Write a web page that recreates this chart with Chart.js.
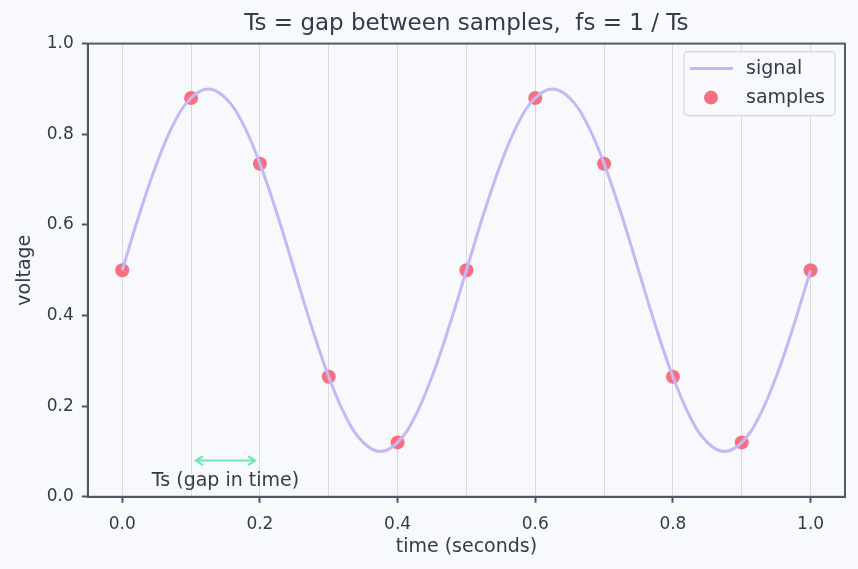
<!DOCTYPE html>
<html>
<head>
<meta charset="utf-8">
<script src="https://cdn.jsdelivr.net/npm/chart.js@4"></script>
<style>
  body { margin: 0; background: #f8f9fd; }
  canvas { display: block; }
</style>
</head>
<body>
<canvas id="chart" width="858" height="569"></canvas>
<script>
// continuous signal, every 0.025 s
const signalTimes = [0, 0.025, 0.05, 0.075, 0.1, 0.125, 0.15, 0.175, 0.2, 0.225, 0.25, 0.275, 0.3, 0.325, 0.35, 0.375, 0.4, 0.425, 0.45, 0.475, 0.5,
  0.525, 0.55, 0.575, 0.6, 0.625, 0.65, 0.675, 0.7, 0.725, 0.75, 0.775, 0.8, 0.825, 0.85, 0.875, 0.9, 0.925, 0.95, 0.975, 1.0];
const signalValues = [0.5, 0.624, 0.735, 0.824, 0.88, 0.9, 0.88, 0.824, 0.735, 0.624, 0.5, 0.376, 0.265, 0.176, 0.12, 0.1, 0.12, 0.176, 0.265, 0.376, 0.5,
  0.624, 0.735, 0.824, 0.88, 0.9, 0.88, 0.824, 0.735, 0.624, 0.5, 0.376, 0.265, 0.176, 0.12, 0.1, 0.12, 0.176, 0.265, 0.376, 0.5];

const sampleTimes = [0, 0.1, 0.2, 0.3, 0.4, 0.5, 0.6, 0.7, 0.8, 0.9, 1.0];
const sampleValues = [0.5, 0.88, 0.735, 0.265, 0.12, 0.5, 0.88, 0.735, 0.265, 0.12, 0.5];

const xTicks = [0, 0.1, 0.2, 0.3, 0.4, 0.5, 0.6, 0.7, 0.8, 0.9, 1.0];
const xLabelTicks = [0, 0.2, 0.4, 0.6, 0.8, 1.0];
const yTicks = [0, 0.2, 0.4, 0.6, 0.8, 1.0];

const gapFrom = 0.107, gapTo = 0.193, gapLevel = 0.08;
const gapLabel = 'Ts (gap in time)';

const ink = '#333a48';
const spine = '#535766';
const lineColor = '#c4b8f5';
const dotColor = '#f7707f';
const arrowColor = '#6ee7b7';
const font = 'DejaVu Sans';

const isLabelled = v => xLabelTicks.some(t => Math.abs(t - v) < 1e-6);

const extras = {
  id: 'extras',
  beforeDraw(chart) {
    const { ctx } = chart;
    ctx.save();
    ctx.fillStyle = '#f8f9fd';
    ctx.fillRect(0, 0, chart.width, chart.height);
    ctx.restore();
  },
  afterDraw(chart) {
    const { ctx, chartArea: a, scales: { x, y } } = chart;
    ctx.save();
    // frame round the plot
    ctx.strokeStyle = spine;
    ctx.lineWidth = 2;
    ctx.strokeRect(a.left, a.top, a.right - a.left, a.bottom - a.top);

    // gap arrow
    const x1 = x.getPixelForValue(gapFrom), x2 = x.getPixelForValue(gapTo);
    const ya = y.getPixelForValue(gapLevel);
    ctx.strokeStyle = arrowColor;
    ctx.lineWidth = 2;
    ctx.beginPath();
    ctx.moveTo(x1, ya); ctx.lineTo(x2, ya);
    ctx.moveTo(x1 + 7, ya - 4.5); ctx.lineTo(x1, ya); ctx.lineTo(x1 + 7, ya + 4.5);
    ctx.moveTo(x2 - 7, ya - 4.5); ctx.lineTo(x2, ya); ctx.lineTo(x2 - 7, ya + 4.5);
    ctx.stroke();
    ctx.fillStyle = ink;
    ctx.font = '19px "' + font + '"';
    ctx.textAlign = 'center';
    ctx.textBaseline = 'middle';
    ctx.fillText(gapLabel, x.getPixelForValue(0.15), y.getPixelForValue(0.034));

    // legend inside the plot, top right
    const bx = a.right - 161, by = a.top + 8, bw = 151, bh = 64;
    ctx.fillStyle = 'rgba(248,249,253,0.85)';
    ctx.strokeStyle = '#d4d6dc';
    ctx.lineWidth = 1.2;
    ctx.beginPath();
    ctx.roundRect(bx, by, bw, bh, 4);
    ctx.fill(); ctx.stroke();
    const ds = chart.data.datasets;
    ctx.strokeStyle = ds[0].borderColor;
    ctx.lineWidth = 3;
    ctx.beginPath();
    ctx.moveTo(bx + 6, by + 17); ctx.lineTo(bx + 49, by + 17);
    ctx.stroke();
    ctx.fillStyle = ds[1].backgroundColor;
    ctx.beginPath();
    ctx.arc(bx + 27, by + 46, 7, 0, Math.PI * 2);
    ctx.fill();
    ctx.fillStyle = ink;
    ctx.textAlign = 'left';
    ctx.fillText(ds[0].label, bx + 62, by + 17);
    ctx.fillText(ds[1].label, bx + 62, by + 46);
    ctx.restore();
  }
};

new Chart(document.getElementById('chart'), {
  type: 'line',
  data: {
    datasets: [
      {
        label: 'signal',
        data: signalTimes.map((t, i) => ({ x: t, y: signalValues[i] })),
        borderColor: lineColor,
        borderWidth: 3,
        pointRadius: 0,
        tension: 0.4,
        fill: false,
      },
      {
        label: 'samples',
        data: sampleTimes.map((t, i) => ({ x: t, y: sampleValues[i] })),
        showLine: false,
        backgroundColor: dotColor,
        borderColor: dotColor,
        pointRadius: 7,
        pointBorderWidth: 0,
      },
    ],
  },
  options: {
    responsive: false,
    animation: false,
    layout: { padding: { left: 14, right: 13, top: 2, bottom: 11 } },
    plugins: {
      legend: { display: false },
      tooltip: { enabled: false },
      title: {
        display: true,
        fullSize: false,
        text: 'Ts = gap between samples,  fs = 1 / Ts',
        color: ink,
        font: { family: font, size: 23, weight: 'normal' },
        padding: { top: 8, bottom: 6 },
      },
    },
    scales: {
      x: {
        type: 'linear',
        min: -0.05,
        max: 1.05,
        afterBuildTicks: axis => { axis.ticks = xTicks.map(v => ({ value: v })); },
        grid: {
          color: '#d9dbe1',
          lineWidth: 1,
          tickLength: 6,
          tickWidth: 2,
          tickColor: c => isLabelled(c.tick.value) ? spine : 'rgba(0,0,0,0)',
        },
        border: { display: true, color: spine, width: 2 },
        ticks: {
          color: ink,
          font: { family: font, size: 17 },
          padding: 12,
          maxRotation: 0,
          autoSkip: false,
          callback: v => isLabelled(v) ? v.toFixed(1) : '',
        },
        title: {
          display: true,
          text: 'time (seconds)',
          color: ink,
          font: { family: font, size: 19 },
          padding: { top: -12, bottom: 0 },
        },
      },
      y: {
        min: 0,
        max: 1,
        afterBuildTicks: axis => { axis.ticks = yTicks.map(v => ({ value: v })); },
        grid: {
          drawOnChartArea: false,
          tickLength: 6,
          tickWidth: 2,
          tickColor: spine,
        },
        border: { display: true, color: spine, width: 2 },
        ticks: {
          color: ink,
          font: { family: font, size: 17 },
          padding: 8,
          callback: v => v.toFixed(1),
        },
        title: {
          display: true,
          text: 'voltage',
          color: ink,
          font: { family: font, size: 19 },
          padding: { top: 0, bottom: 2 },
        },
      },
    },
  },
  plugins: [extras],
});
</script>
</body>
</html>
